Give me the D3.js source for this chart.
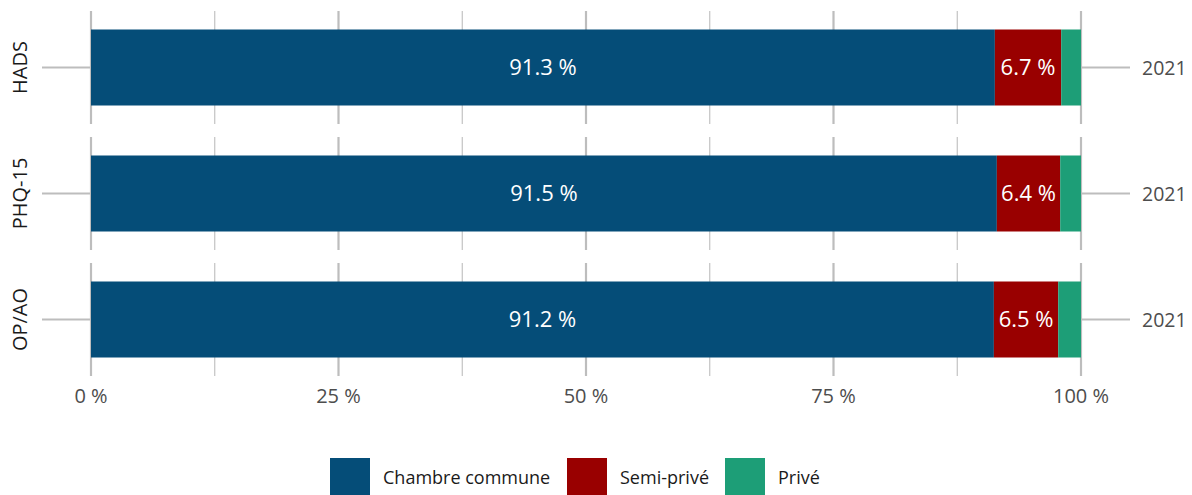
<!DOCTYPE html>
<html><head><meta charset="utf-8">
<script src="https://cdn.jsdelivr.net/npm/d3@7"></script>
<style>body{margin:0;background:#fff}svg{display:block}</style>
</head><body><svg id="c" width="1192" height="495"></svg>
<script>
const categories = ["HADS", "PHQ-15", "OP/AO"];
const years = ["2021", "2021", "2021"];
const seriesNames = ["Chambre commune", "Semi-privé", "Privé"];
const chambreCommune = [91.3, 91.5, 91.2];
const semiPrive = [6.7, 6.4, 6.5];
const prive = [2.0, 2.1, 2.3];
const xTicks = [0, 25, 50, 75, 100];
const xTickLabels = ["0 %", "25 %", "50 %", "75 %", "100 %"];
const minorTicks = [12.5, 37.5, 62.5, 87.5];
const colors = ["#054d78", "#990000", "#1d9e77"];

const svg = d3.select("#c");
const font = "'Open Sans', 'Noto Sans', sans-serif";
const x = d3.scaleLinear().domain([0, 100]).range([91, 1081]);
const panelTop = 11, panelH = 113, panelGap = 13;
const panelY = d3.scaleBand().domain(categories).range([panelTop, panelTop + 3*panelH + 2*panelGap]).paddingInner(panelGap/(panelH+panelGap));
const barH = 76;

const rows = categories.map((c,i)=>({cat:c, year:years[i], vals:[chambreCommune[i], semiPrive[i], prive[i]]}));

rows.forEach(r=>{
  const g = svg.append("g").attr("transform", `translate(0,${panelY(r.cat)})`);
  const h = panelY.bandwidth();
  g.selectAll("line.minor").data(minorTicks).join("line")
    .attr("x1", d=>x(d)).attr("x2", d=>x(d)).attr("y1", 0).attr("y2", h)
    .attr("stroke", "#bdbdbd").attr("stroke-width", 1.1);
  g.selectAll("line.major").data(xTicks).join("line")
    .attr("x1", d=>x(d)).attr("x2", d=>x(d)).attr("y1", 0).attr("y2", h)
    .attr("stroke", "#bdbdbd").attr("stroke-width", 2.2);
  const cy = h/2;
  g.append("line").attr("x1", 42).attr("x2", x(0)).attr("y1", cy).attr("y2", cy).attr("stroke", "#bdbdbd").attr("stroke-width", 2.2);
  g.append("line").attr("x1", x(100)).attr("x2", 1130).attr("y1", cy).attr("y2", cy).attr("stroke", "#bdbdbd").attr("stroke-width", 2.2);
  const stacked = [];
  let acc = 0;
  r.vals.forEach((v,i)=>{stacked.push({s:acc, e:acc+v, v, i}); acc += v;});
  g.selectAll("rect").data(stacked).join("rect")
    .attr("x", d=>x(d.s)).attr("width", d=>x(d.e)-x(d.s))
    .attr("y", cy - barH/2).attr("height", barH)
    .attr("fill", d=>colors[d.i]);
  g.selectAll("text.val").data(stacked.filter(d=>d.i<2)).join("text")
    .attr("x", d=>(x(d.s)+x(d.e))/2).attr("y", cy).attr("dy", "0.36em")
    .attr("text-anchor", "middle").attr("fill", "#fff")
    .style("font-family", font).style("font-size", "22px")
    .text(d=>d.v.toFixed(1) + " %");
  g.append("text").attr("transform", `translate(27,${cy}) rotate(-90)`)
    .attr("text-anchor", "middle").attr("fill", "#1a1a1a")
    .style("font-family", font).style("font-size", "20px").text(r.cat);
  g.append("text").attr("x", 1142).attr("y", cy).attr("dy", "0.36em")
    .attr("fill", "#4d4d4d").style("font-family", font).style("font-size", "19.5px").text(r.year);
});

svg.selectAll("text.xl").data(xTicks).join("text")
  .attr("x", d=>x(d)).attr("y", 396).attr("dy", "0.36em")
  .attr("text-anchor", "middle").attr("fill", "#4d4d4d")
  .style("font-family", font).style("font-size", "20px")
  .text((d,i)=>xTickLabels[i]);

const legX = [330, 567, 725];
const lg = svg.append("g");
seriesNames.forEach((n,i)=>{
  lg.append("rect").attr("x", legX[i]).attr("y", 458).attr("width", 40).attr("height", 37).attr("fill", colors[i]);
  lg.append("text").attr("x", legX[i]+53).attr("y", 478).attr("dy", "0.36em")
    .attr("fill", "#1a1a1a").style("font-family", font).style("font-size", "18px").text(n);
});
</script></body></html>
